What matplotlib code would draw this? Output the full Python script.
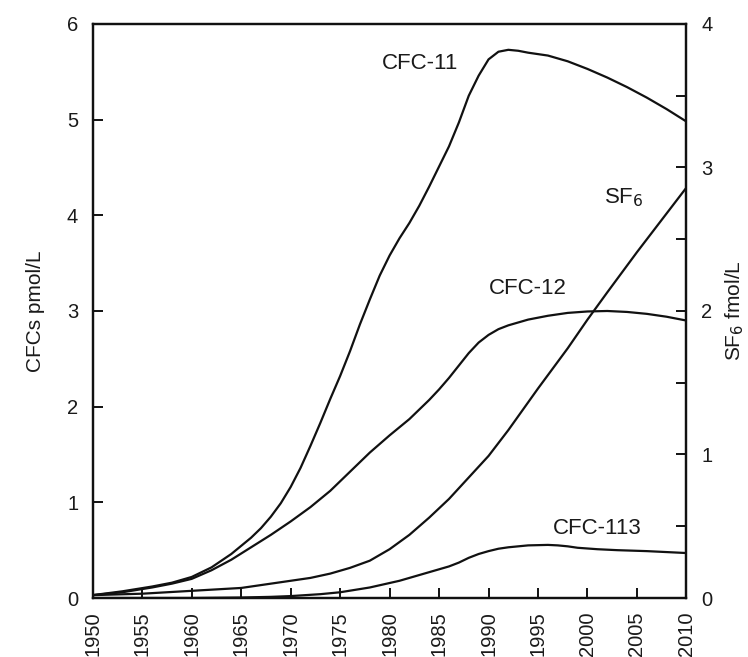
import matplotlib
matplotlib.use("Agg")
import matplotlib.pyplot as plt
from matplotlib.ticker import MultipleLocator, FixedLocator

plt.rcParams['font.family'] = ['Liberation Sans', 'DejaVu Sans']

# ---- data ----
cfc11_years = [1950, 1953, 1956, 1958, 1960, 1962, 1964, 1966, 1967, 1968, 1969, 1970,
               1971, 1972, 1973, 1974, 1975, 1976, 1977, 1978, 1979, 1980, 1981, 1982,
               1983, 1984, 1985, 1986, 1987, 1988, 1989, 1990, 1991, 1992, 1993, 1994,
               1996, 1998, 2000, 2002, 2004, 2006, 2008, 2010]
cfc11 = [0.03, 0.07, 0.12, 0.16, 0.22, 0.32, 0.46, 0.63, 0.73, 0.85, 0.99, 1.16,
         1.36, 1.59, 1.83, 2.08, 2.32, 2.58, 2.86, 3.12, 3.37, 3.58, 3.76, 3.92,
         4.10, 4.30, 4.51, 4.72, 4.97, 5.25, 5.46, 5.63, 5.71, 5.73, 5.72, 5.70,
         5.67, 5.61, 5.53, 5.44, 5.34, 5.23, 5.11, 4.98]

cfc12_years = [1950, 1953, 1956, 1958, 1960, 1962, 1964, 1966, 1968, 1970, 1972, 1974,
               1976, 1978, 1980, 1982, 1984, 1985, 1986, 1987, 1988, 1989, 1990, 1991,
               1992, 1994, 1996, 1998, 2000, 2002, 2004, 2006, 2008, 2010]
cfc12 = [0.03, 0.06, 0.11, 0.15, 0.20, 0.29, 0.40, 0.53, 0.66, 0.80, 0.95, 1.12,
         1.32, 1.52, 1.70, 1.87, 2.07, 2.18, 2.30, 2.43, 2.56, 2.67, 2.75, 2.81,
         2.85, 2.91, 2.95, 2.98, 2.995, 3.00, 2.99, 2.97, 2.94, 2.90]

cfc113_years = [1950, 1960, 1965, 1968, 1970, 1973, 1975, 1978, 1981, 1984, 1986, 1987,
                1988, 1989, 1990, 1991, 1992, 1993, 1994, 1996, 1997, 1998, 1999, 2001,
                2003, 2006, 2010]
cfc113 = [0.0, 0.0, 0.005, 0.012, 0.02, 0.04, 0.06, 0.11, 0.18, 0.27, 0.33, 0.37,
          0.42, 0.46, 0.49, 0.515, 0.53, 0.54, 0.55, 0.555, 0.55, 0.54, 0.525, 0.51,
          0.50, 0.49, 0.47]

sf6_years = [1950, 1955, 1960, 1965, 1968, 1970, 1972, 1974, 1976, 1978, 1980, 1982,
             1984, 1986, 1988, 1990, 1992, 1995, 1998, 2000, 2002, 2005, 2008, 2010]
sf6 = [0.02, 0.03, 0.05, 0.07, 0.10, 0.12, 0.14, 0.17, 0.21, 0.26, 0.34, 0.44,
       0.56, 0.69, 0.84, 0.99, 1.17, 1.46, 1.74, 1.94, 2.13, 2.41, 2.68, 2.86]

year_ticks = list(range(1950, 2011, 5))
left_ticks = [0, 1, 2, 3, 4, 5, 6]
right_ticks = [0, 1, 2, 3, 4]

labels = {
    "CFC-11": (1983.1, 5.59),
    "CFC-12": (1994.0, 3.23),
    "CFC-113": (2001.0, 0.73),
    "SF$_6$": (2003.7, 4.18),
}

# ---- figure ----
fig = plt.figure(figsize=(7.48, 6.57), dpi=100)
ax = fig.add_axes([0.124, 0.0898, 0.7937, 0.8737])
ax2 = ax.twinx()

txt = '#1a1a1a'
lc = '#111111'
lw = 1.6
ax.plot(cfc11_years, cfc11, color=lc, lw=lw)
ax.plot(cfc12_years, cfc12, color=lc, lw=lw)
ax.plot(cfc113_years, cfc113, color=lc, lw=lw)
ax2.plot(sf6_years, sf6, color=lc, lw=lw)

ax.set_xlim(1950, 2010)
ax.set_ylim(0, 6)
ax2.set_ylim(0, 4)

ax.xaxis.set_major_locator(FixedLocator(year_ticks))
ax.set_xticklabels([str(y) for y in year_ticks], rotation=90)
ax.yaxis.set_major_locator(FixedLocator(left_ticks))
ax2.yaxis.set_major_locator(FixedLocator(right_ticks))
ax2.yaxis.set_minor_locator(MultipleLocator(0.5))

for a in (ax, ax2):
    for s in a.spines.values():
        s.set_linewidth(1.6)
        s.set_color(lc)

ax.tick_params(axis='both', which='major', direction='in', length=7, width=1.4,
               labelsize=14.5, colors=lc, labelcolor=txt)
ax.tick_params(axis='x', pad=9.5)
ax.tick_params(axis='y', pad=10.5)
ax2.tick_params(axis='y', which='both', direction='in', length=7, width=1.4,
                labelsize=14.5, colors=lc, labelcolor=txt, pad=10.5)

ax.set_ylabel("CFCs pmol/L", fontsize=15, color=txt, labelpad=16)
ax2.set_ylabel("SF$_6$ fmol/L", fontsize=15, color=txt, labelpad=8)

for name, (xx, yy) in labels.items():
    ax.text(xx, yy, name, fontsize=16, color=txt, ha='center', va='center')

fig.savefig("out.png", dpi=100)
